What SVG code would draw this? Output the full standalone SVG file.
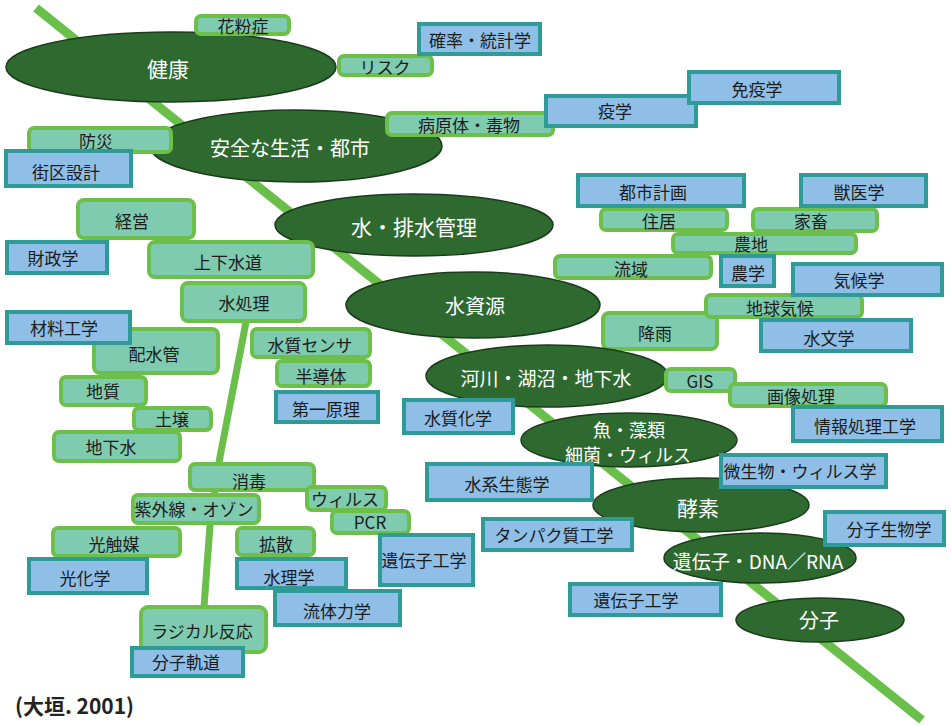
<svg xmlns="http://www.w3.org/2000/svg" width="951" height="726" viewBox="0 0 951 726">
<style>
.g rect{fill:#7ecbb0;stroke:#6cc04a;stroke-width:4}
.b rect{fill:#8fbfe6;stroke:#2e9b98;stroke-width:4}
.e ellipse{fill:#2e6a30;stroke:#1a3b1b;stroke-width:1.5}
text{font-family:"Noto Sans CJK JP","Noto Sans",sans-serif;text-anchor:middle;dominant-baseline:central}
.g text,.b text{font-size:17px;fill:#1c1c1c}
.e text{font-size:20px;fill:#ffffff}
.c{stroke:#6abf4b;fill:none}
</style>
<rect width="951" height="726" fill="#ffffff"/>
<g id="connectors">
<line class="c" x1="36" y1="8" x2="922" y2="720" stroke-width="9"/>
<polyline class="c" points="246,322 219,462 210,525 204,607" stroke-width="7"/>
</g>
<g id="n-kouu" class="g"><rect x="603" y="313" width="114" height="36" rx="6"/><text x="655" y="332">降雨</text></g>
<g id="e-kenkou" class="e"><ellipse cx="171" cy="67" rx="165" ry="35"/><text x="168" y="68" style="font-size:21px">健康</text></g>
<g id="e-anzen" class="e"><ellipse cx="296" cy="146" rx="146" ry="36"/><text x="290" y="147">安全な生活・都市</text></g>
<g id="e-haisui" class="e"><ellipse cx="414" cy="225" rx="139" ry="31"/><text x="414" y="226" style="font-size:21px">水・排水管理</text></g>
<g id="e-shigen" class="e"><ellipse cx="473" cy="305" rx="127" ry="33"/><text x="475" y="305">水資源</text></g>
<g id="e-kasen" class="e"><ellipse cx="547" cy="376" rx="121" ry="31"/><text x="546" y="377" style="font-size:19px">河川・湖沼・地下水</text></g>
<g id="e-sakana" class="e"><ellipse cx="629" cy="440" rx="108" ry="27"/><text x="629" y="429" style="font-size:18px">魚・藻類</text><text x="628" y="454" style="font-size:18px">細菌・ウィルス</text></g>
<g id="e-kouso" class="e"><ellipse cx="701" cy="505" rx="108" ry="27"/><text x="698" y="507" style="font-size:21px">酵素</text></g>
<g id="e-dna" class="e"><ellipse cx="760" cy="558" rx="96" ry="25"/><text x="758" y="560" style="font-size:19px">遺伝子・DNA／RNA</text></g>
<g id="e-bunshi" class="e"><ellipse cx="820" cy="620" rx="84" ry="22"/><text x="819" y="619">分子</text></g>
<g id="n-kafun" class="g"><rect x="196" y="16" width="93" height="18" rx="5"/><text x="243" y="25">花粉症</text></g>
<g id="n-risk" class="g"><rect x="339" y="56" width="93" height="19" rx="5"/><text x="385" y="66">リスク</text></g>
<g id="n-byougen" class="g"><rect x="387" y="113" width="166" height="22" rx="5"/><text x="469" y="124">病原体・毒物</text></g>
<g id="n-bousai" class="g"><rect x="29" y="128" width="142" height="24" rx="5"/><text x="96" y="140">防災</text></g>
<g id="n-keiei" class="g"><rect x="78" y="200" width="116" height="38" rx="6"/><text x="132" y="220">経営</text></g>
<g id="n-jouge" class="g"><rect x="149" y="242" width="164" height="35" rx="6"/><text x="228" y="261">上下水道</text></g>
<g id="n-mizushori" class="g"><rect x="182" y="283" width="123" height="38" rx="6"/><text x="244" y="302">水処理</text></g>
<g id="n-haisuikan" class="g"><rect x="94" y="329" width="124" height="44" rx="6"/><text x="154" y="353">配水管</text></g>
<g id="n-sensa" class="g"><rect x="252" y="329" width="118" height="28" rx="5"/><text x="310" y="344">水質センサ</text></g>
<g id="n-handoutai" class="g"><rect x="277" y="361" width="93" height="25" rx="5"/><text x="321" y="375">半導体</text></g>
<g id="n-chishitsu" class="g"><rect x="61" y="377" width="85" height="28" rx="5"/><text x="103" y="390">地質</text></g>
<g id="n-dojou" class="g"><rect x="134" y="408" width="77" height="22" rx="5"/><text x="172" y="418">土壌</text></g>
<g id="n-chikasui" class="g"><rect x="54" y="432" width="126" height="29" rx="5"/><text x="111" y="446">地下水</text></g>
<g id="n-shoudoku" class="g"><rect x="190" y="464" width="124" height="26" rx="5"/><text x="249" y="480">消毒</text></g>
<g id="n-shigaisen" class="g"><rect x="133" y="495" width="126" height="28" rx="5"/><text x="194" y="508">紫外線・オゾン</text></g>
<g id="n-virus" class="g"><rect x="307" y="487" width="79" height="23" rx="5"/><text x="345" y="498">ウィルス</text></g>
<g id="n-pcr" class="g"><rect x="332" y="511" width="77" height="22" rx="5"/><text x="370" y="521">PCR</text></g>
<g id="n-hikari" class="g"><rect x="53" y="528" width="127" height="28" rx="5"/><text x="114" y="543">光触媒</text></g>
<g id="n-kakusan" class="g"><rect x="237" y="528" width="77" height="27" rx="5"/><text x="276" y="543">拡散</text></g>
<g id="n-radical" class="g"><rect x="141" y="607" width="125" height="45" rx="7"/><text x="202" y="630">ラジカル反応</text></g>
<g id="n-juukyo" class="g"><rect x="601" y="209" width="126" height="21" rx="5"/><text x="659" y="220">住居</text></g>
<g id="n-kachiku" class="g"><rect x="753" y="209" width="124" height="22" rx="5"/><text x="811" y="220">家畜</text></g>
<g id="n-nouchi" class="g"><rect x="673" y="234" width="183" height="19" rx="5"/><text x="751" y="243">農地</text></g>
<g id="n-ryuuiki" class="g"><rect x="555" y="256" width="156" height="22" rx="5"/><text x="631" y="268">流域</text></g>
<g id="n-chikyuu" class="g"><rect x="706" y="295" width="156" height="22" rx="5"/><text x="780" y="307">地球気候</text></g>
<g id="n-gis" class="g"><rect x="666" y="369" width="69" height="22" rx="5"/><text x="700" y="380">GIS</text></g>
<g id="n-gazou" class="g"><rect x="730" y="384" width="156" height="22" rx="5"/><text x="801" y="395">画像処理</text></g>
<g id="b-kakuritsu" class="b"><rect x="419" y="24" width="121" height="30"/><text x="480" y="39">確率・統計学</text></g>
<g id="b-ekigaku" class="b"><rect x="546" y="96" width="150" height="30"/><text x="615" y="110">疫学</text></g>
<g id="b-meneki" class="b"><rect x="689" y="72" width="150" height="31"/><text x="757" y="88">免疫学</text></g>
<g id="b-gaiku" class="b"><rect x="6" y="151" width="125" height="35"/><text x="66" y="171">街区設計</text></g>
<g id="b-zaisei" class="b"><rect x="7" y="242" width="100" height="31"/><text x="53" y="257">財政学</text></g>
<g id="b-zairyou" class="b"><rect x="7" y="312" width="123" height="31"/><text x="64" y="327">材料工学</text></g>
<g id="b-daiichi" class="b"><rect x="276" y="392" width="102" height="30"/><text x="326" y="408">第一原理</text></g>
<g id="b-suishitsu" class="b"><rect x="404" y="400" width="109" height="33"/><text x="458" y="417">水質化学</text></g>
<g id="b-toshi" class="b"><rect x="578" y="175" width="166" height="31"/><text x="653" y="191">都市計画</text></g>
<g id="b-juui" class="b"><rect x="801" y="175" width="125" height="31"/><text x="859" y="191">獣医学</text></g>
<g id="b-nougaku" class="b"><rect x="721" y="256" width="53" height="30"/><text x="748" y="272">農学</text></g>
<g id="b-kikou" class="b"><rect x="793" y="264" width="149" height="31"/><text x="859" y="279">気候学</text></g>
<g id="b-suimon" class="b"><rect x="761" y="320" width="150" height="31"/><text x="829" y="337">水文学</text></g>
<g id="b-jouhou" class="b"><rect x="793" y="407" width="149" height="34"/><text x="865" y="425">情報処理工学</text></g>
<g id="b-biseibutsu" class="b"><rect x="721" y="455" width="165" height="32"/><text x="800" y="470">微生物・ウィルス学</text></g>
<g id="b-suikei" class="b"><rect x="427" y="464" width="165" height="36"/><text x="507" y="483">水系生態学</text></g>
<g id="b-bunshiseibutsu" class="b"><rect x="825" y="512" width="119" height="33"/><text x="889" y="528">分子生物学</text></g>
<g id="b-tanpaku" class="b"><rect x="483" y="519" width="149" height="31"/><text x="554" y="534">タンパク質工学</text></g>
<g id="b-idenshi1" class="b"><rect x="380" y="535" width="93" height="50"/><text x="424" y="559">遺伝子工学</text></g>
<g id="b-idenshi2" class="b"><rect x="570" y="584" width="151" height="31"/><text x="636" y="599">遺伝子工学</text></g>
<g id="b-suiri" class="b"><rect x="237" y="559" width="109" height="29"/><text x="289" y="576">水理学</text></g>
<g id="b-ryuutai" class="b"><rect x="275" y="591" width="125" height="34"/><text x="337" y="610">流体力学</text></g>
<g id="b-hikarikagaku" class="b"><rect x="29" y="559" width="118" height="34"/><text x="85" y="577">光化学</text></g>
<g id="b-bunshikidou" class="b"><rect x="132" y="648" width="111" height="28"/><text x="186" y="661">分子軌道</text></g>
<text x="15" y="705" style="font-size:21px;font-weight:bold;fill:#222;text-anchor:start">(大垣. 2001)</text>
</svg>
